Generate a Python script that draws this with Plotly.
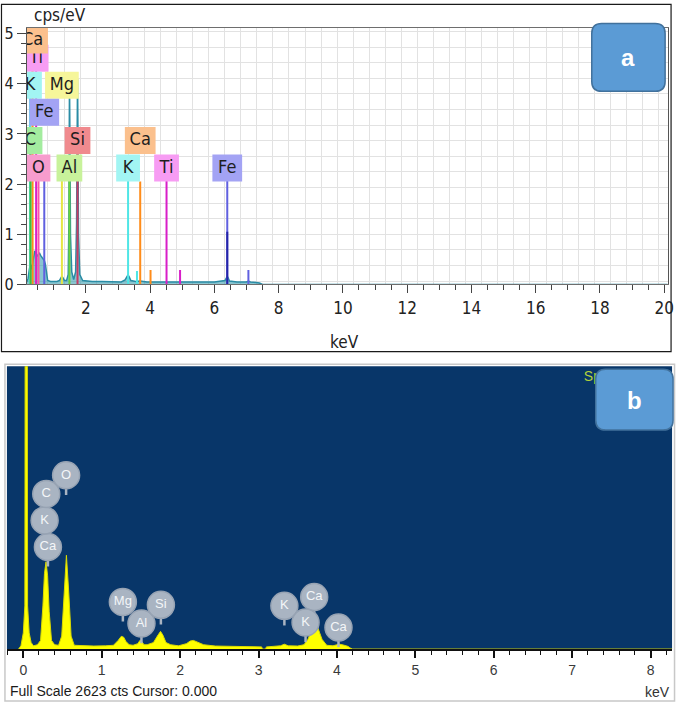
import plotly.graph_objects as go

W, H = 685, 716


def PX(x):
    return min(1.0, max(0.0, x / W))


def PY(y):
    return min(1.0, max(0.0, 1 - y / H))


# ---------------- Panel a data (cps/eV vs keV) ----------------
a_spec_kev = [0.16, 0.20, 0.24, 0.27, 0.29, 0.32, 0.35, 0.38, 0.41, 0.44, 0.47, 0.50, 0.53, 0.56, 0.59,
              0.62, 0.65, 0.68, 0.71, 0.74, 0.77, 0.81, 0.9, 1.0, 1.1, 1.18, 1.23, 1.25, 1.28, 1.33,
              1.40, 1.45, 1.47, 1.48, 1.49, 1.50, 1.52, 1.56, 1.62, 1.68, 1.71, 1.73, 1.74, 1.75, 1.77,
              1.81, 1.9, 2.0, 2.2, 2.5, 2.8, 3.1, 3.22, 3.28, 3.31, 3.34, 3.40, 3.55, 3.69, 3.9,
              4.5, 5.2, 6.0, 6.33, 6.38, 6.40, 6.42, 6.47, 6.7, 7.0, 7.06, 7.12, 7.3, 7.4, 7.5, 20.1]
a_spec_cps = [0.05, 0.12, 0.30, 0.40, 0.38, 0.30, 0.45, 0.62, 0.67, 0.64, 0.58, 0.56, 0.60, 0.62, 0.58,
              0.55, 0.52, 0.50, 0.47, 0.40, 0.20, 0.08, 0.06, 0.06, 0.06, 0.08, 0.14, 0.16, 0.14, 0.08,
              0.08, 0.20, 1.2, 3.2, 4.1, 3.2, 1.0, 0.25, 0.10, 0.25, 1.2, 3.3, 4.1, 3.3, 1.0,
              0.20, 0.08, 0.07, 0.06, 0.06, 0.05, 0.05, 0.09, 0.16, 0.19, 0.16, 0.08, 0.06, 0.07, 0.05,
              0.05, 0.05, 0.05, 0.08, 0.14, 0.16, 0.14, 0.07, 0.05, 0.05, 0.07, 0.05, 0.04, 0.03, 0.0, 0.0]

# element markers with labels
a_lab_el = ["Ti", "Ca", "K", "Mg", "Fe", "C", "Si", "O", "Al", "Ca", "K", "Ti", "Fe"]
a_lab_kev = [0.452, 0.341, 0.260, 1.254, 0.705, 0.277, 1.740, 0.525, 1.487, 3.691, 3.313, 4.510, 6.400]
a_lab_row = [4.51, 4.87, 3.97, 3.97, 3.43, 2.87, 2.87, 2.32, 2.32, 2.87, 2.32, 2.32, 2.32]
a_line_top = [4.51, 4.87, 3.97, 2.30, 2.30, 2.87, 2.87, 2.32, 2.32, 2.05, 2.32, 2.32, 2.32]
# unlabelled small marker lines
a_minor_el = ["K", "Ca", "Ti", "Fe"]
a_minor_kev = [3.590, 4.012, 4.931, 7.058]
a_minor_top = [0.27, 0.29, 0.29, 0.29]
a_fe_main_top = 1.05

a_xticks = [2, 4, 6, 8, 10, 12, 14, 16, 18, 20]
a_yticks = [0, 1, 2, 3, 4, 5]

# ---------------- Panel b data (counts vs keV) ----------------
b_spec_kev = [-0.06, -0.03, 0.0, 0.02, 0.025, 0.05, 0.055, 0.075, 0.10, 0.13, 0.18, 0.22, 0.25, 0.27, 0.29,
              0.31, 0.33, 0.36, 0.40, 0.45, 0.49, 0.52, 0.55, 0.58, 0.61, 0.65, 0.75, 0.9, 1.05, 1.15,
              1.21, 1.25, 1.28, 1.31, 1.35, 1.40, 1.46, 1.49, 1.51, 1.54, 1.58, 1.66, 1.71, 1.75, 1.78,
              1.82, 1.88, 1.98, 2.08, 2.13, 2.17, 2.22, 2.30, 2.45, 2.7, 2.95, 3.04, 3.05, 3.09, 3.10,
              3.2, 3.28, 3.33, 3.38, 3.5, 3.58, 3.63, 3.68, 3.72, 3.76, 3.81, 3.87, 3.95, 4.0, 4.03,
              4.08, 4.14, 4.17, 4.2, 8.3]
b_spec_cts = [0, 30, 150, 400, 4000, 4000, 400, 150, 60, 30, 40, 80, 400, 700, 810,
              680, 350, 80, 40, 35, 120, 500, 870, 520, 120, 35, 30, 28, 30, 35,
              80, 118, 110, 70, 40, 35, 50, 82, 70, 40, 40, 60, 120, 164, 130,
              60, 40, 30, 50, 75, 80, 65, 40, 28, 25, 22, 20, 0, 0, 20,
              22, 30, 45, 30, 28, 40, 90, 180, 240, 190, 90, 35, 30, 40, 45,
              38, 25, 10, 0, 0]
b_full_scale = 2623
b_lab_el = ["Ca", "K", "C", "O", "Mg", "Al", "Si", "K", "Ca", "K", "Ca"]
b_lab_kev = [0.314, 0.272, 0.293, 0.546, 1.27, 1.507, 1.755, 3.33, 3.71, 3.60, 4.02]
b_lab_cts = [947, 1193, 1439, 1612, 437, 237, 410, 401, 483, 246, 200]
b_xticks = [0, 1, 2, 3, 4, 5, 6, 7, 8]

# ---------------- styles ----------------
CF = "DejaVu Sans Condensed, Liberation Sans Narrow, DejaVu Sans, sans-serif"
AF = "Liberation Sans, Arial, sans-serif"
box_col = {"Ca": "#fbc08d", "Ti": "#f79cf3", "K": "#a2f5f3", "Mg": "#f6f69a", "Fe": "#a3a3f4",
           "C": "#a3ec9f", "Si": "#f08a8e", "O": "#f79ccd", "Al": "#c8f29b"}
line_col = {"Ca": "#ff8c1a", "Ti": "#d81ec8", "K": "#4fe6e6", "Mg": "#e6e645", "Fe": "#6060e0",
            "C": "#3cc03c", "Si": "#c83c64", "O": "#ff50a8", "Al": "#6ad23c"}
box_wpx = {"Ca": 31, "Ti": 25, "K": 24, "Mg": 34, "Fe": 30, "C": 24, "Si": 26, "O": 24, "Al": 26}
BOX_HPX = 27.5

A_XR = [0.16, 20.12]
A_YR = [0.0, 5.12]
A_L, A_R, A_T, A_B = 27, 674, 25, 286.7
kev_per_px = (A_XR[1] - A_XR[0]) / (A_R - A_L)
cps_per_px = (A_YR[1] - A_YR[0]) / (A_B - A_T)

B_KEV_PER_PX = 1 / 79.1
B_L, B_R, B_T, B_B = 7, 678, 370, 658
B_XR = [(B_L - 23.5) * B_KEV_PER_PX, (B_R - 23.5) * B_KEV_PER_PX]
cts_per_px = b_full_scale / (B_B - B_T)

fig = go.Figure()

# grid carriers (overlay axes)
fig.add_trace(go.Scatter(x=[None], y=[None], xaxis="x3", yaxis="y", showlegend=False, hoverinfo="skip"))
fig.add_trace(go.Scatter(x=[None], y=[None], xaxis="x", yaxis="y3", showlegend=False, hoverinfo="skip"))

# spectrum a
fig.add_trace(go.Scatter(x=a_spec_kev, y=a_spec_cps, mode="lines", fill="tozeroy",
                         line=dict(color="#2a8ca5", width=1.5), fillcolor="rgba(40,150,170,0.55)",
                         xaxis="x", yaxis="y", showlegend=False, hoverinfo="skip"))

# marker lines a
for el, e, top in zip(a_lab_el, a_lab_kev, a_line_top):
    fig.add_trace(go.Scatter(x=[e, e], y=[0, top], mode="lines", line=dict(color=line_col[el], width=2),
                             xaxis="x", yaxis="y", showlegend=False, hoverinfo="skip"))
for el, e, top in zip(a_minor_el, a_minor_kev, a_minor_top):
    fig.add_trace(go.Scatter(x=[e, e], y=[0, top], mode="lines", line=dict(color=line_col[el], width=2),
                             xaxis="x", yaxis="y", showlegend=False, hoverinfo="skip"))
fig.add_trace(go.Scatter(x=[a_lab_kev[-1]] * 2, y=[0, a_fe_main_top], mode="lines",
                         line=dict(color="#2424a8", width=2), xaxis="x", yaxis="y",
                         showlegend=False, hoverinfo="skip"))

# label boxes a
for el, e, row in zip(a_lab_el, a_lab_kev, a_lab_row):
    hw = box_wpx[el] / 2 * kev_per_px
    hh = BOX_HPX / 2 * cps_per_px
    fig.add_trace(go.Scatter(x=[e - hw, e + hw, e + hw, e - hw, e - hw],
                             y=[row - hh, row - hh, row + hh, row + hh, row - hh],
                             mode="lines", fill="toself", fillcolor=box_col[el], line=dict(width=0),
                             xaxis="x", yaxis="y", showlegend=False, hoverinfo="skip"))
    fig.add_trace(go.Scatter(x=[e], y=[row], mode="text", text=[el], textposition="middle center",
                             textfont=dict(family=CF, size=18, color="#1e1e1e"),
                             xaxis="x", yaxis="y", showlegend=False, hoverinfo="skip"))

# spectrum b
fig.add_trace(go.Scatter(x=b_spec_kev, y=b_spec_cts, mode="lines", fill="tozeroy",
                         line=dict(color="#d9d900", width=1), fillcolor="#ffff00",
                         xaxis="x2", yaxis="y2", showlegend=False, hoverinfo="skip"))
# spectrum name (mostly covered by box b)
fig.add_trace(go.Scatter(x=[(589 - 23.5) * B_KEV_PER_PX],
                         y=[(B_B - 381) * cts_per_px], mode="text", text=["Spectrum 1"],
                         textposition="middle right", textfont=dict(family=AF, size=14, color="#b4d23c"),
                         xaxis="x2", yaxis="y2", showlegend=False, hoverinfo="skip"))
# stems and bubbles
sx, sy = [], []
for e, c in zip(b_lab_kev, b_lab_cts):
    sx += [e, e, None]
    sy += [c, c - 20 * cts_per_px, None]
fig.add_trace(go.Scatter(x=sx, y=sy, mode="lines", line=dict(color="#a9b4c2", width=2.5),
                         xaxis="x2", yaxis="y2", showlegend=False, hoverinfo="skip"))
fig.add_trace(go.Scatter(x=b_lab_kev, y=b_lab_cts, mode="markers+text", text=b_lab_el,
                         textposition="middle center",
                         marker=dict(size=27, color="#a9b4c2", line=dict(color="#97a3b3", width=1.5)),
                         textfont=dict(family=AF, size=13, color="#f4f6f8"),
                         xaxis="x2", yaxis="y2", showlegend=False, hoverinfo="skip"))


def rrect(x0, y0, x1, y1, r):
    def p(x, y):
        return f"{PX(x):.5f},{PY(y):.5f}"
    return (f"M {p(x0 + r, y0)} L {p(x1 - r, y0)} Q {p(x1, y0)} {p(x1, y0 + r)} "
            f"L {p(x1, y1 - r)} Q {p(x1, y1)} {p(x1 - r, y1)} L {p(x0 + r, y1)} "
            f"Q {p(x0, y1)} {p(x0, y1 - r)} L {p(x0, y0 + r)} Q {p(x0, y0)} {p(x0 + r, y0)} Z")


shapes = [
    dict(type="rect", xref="x2 domain", yref="y2 domain", x0=0, x1=1, y0=0, y1=1,
         fillcolor="#083669", line=dict(width=0), layer="below"),
    dict(type="rect", xref="paper", yref="paper", x0=PX(1.5), x1=PX(677), y0=PY(355), y1=PY(1.5),
         line=dict(color="#1a1a1a", width=1.2), fillcolor="rgba(0,0,0,0)", layer="above"),
    dict(type="rect", xref="paper", yref="paper", x0=PX(5), x1=PX(680.5), y0=PY(711), y1=PY(368),
         line=dict(color="#c8c8c8", width=1.5), fillcolor="rgba(0,0,0,0)", layer="above"),
    dict(type="path", xref="paper", yref="paper", path=rrect(597, 21, 671, 90, 10),
         fillcolor="#5b9bd5", line=dict(color="#41719c", width=1.5), layer="above"),
    dict(type="path", xref="paper", yref="paper", path=rrect(601, 373, 679, 435, 10),
         fillcolor="#5b9bd5", line=dict(color="#41719c", width=1.5), layer="above"),
]

annotations = [
    dict(text="cps/eV", x=PX(32), y=PY(12), xref="paper", yref="paper", xanchor="left", yanchor="middle",
         showarrow=False, font=dict(family=CF, size=17, color="#222")),
    dict(text="keV", x=PX(348), y=PY(345), xref="paper", yref="paper", xanchor="center", yanchor="middle",
         showarrow=False, font=dict(family=CF, size=17, color="#222")),
    dict(text="Full Scale %d cts Cursor: 0.000" % b_full_scale, x=PX(8), y=PY(701), xref="paper", yref="paper",
         xanchor="left", yanchor="middle", showarrow=False, font=dict(family=AF, size=14, color="#1a1a1a")),
    dict(text="keV", x=PX(678), y=PY(702), xref="paper", yref="paper", xanchor="right", yanchor="middle",
         showarrow=False, font=dict(family=AF, size=14, color="#333")),
    dict(text="<b>a</b>", x=PX(634), y=PY(55), xref="paper", yref="paper", xanchor="center", yanchor="middle",
         showarrow=False, font=dict(family=AF, size=24, color="white")),
    dict(text="<b>b</b>", x=PX(640), y=PY(405), xref="paper", yref="paper", xanchor="center", yanchor="middle",
         showarrow=False, font=dict(family=AF, size=24, color="white")),
]

fig.update_layout(
    width=W, height=H, margin=dict(l=0, r=0, t=0, b=0),
    paper_bgcolor="white", plot_bgcolor="white", showlegend=False,
    shapes=shapes, annotations=annotations,
    xaxis=dict(domain=[PX(A_L), PX(A_R)], range=A_XR, anchor="y", showgrid=False, zeroline=False,
               showline=True, linecolor="#6e6e6e", linewidth=1, mirror=True,
               ticks="outside", ticklen=8, tickwidth=1, tickcolor="#444", ticklabeloverflow="allow",
               tickmode="array", tickvals=a_xticks, ticktext=[str(v) for v in a_xticks],
               minor=dict(dtick=0.5, tick0=0, ticklen=5, tickcolor="#444", ticks="outside", showgrid=False),
               tickfont=dict(family=CF, size=17, color="#222")),
    yaxis=dict(domain=[PY(A_B), PY(A_T)], range=A_YR, anchor="x", showgrid=False, zeroline=False,
               showline=True, linecolor="#555", linewidth=1, mirror=True,
               ticks="outside", ticklen=9, tickwidth=1, tickcolor="#444",
               tickmode="array", tickvals=a_yticks, ticktext=[str(v) for v in a_yticks],
               minor=dict(dtick=0.2, tick0=0, ticklen=5, tickcolor="#444", ticks="outside", showgrid=False),
               tickfont=dict(family=CF, size=16, color="#222")),
    xaxis3=dict(overlaying="x", anchor="y", side="top", range=A_XR, tick0=0.32, dtick=0.5,
                showgrid=True, gridcolor="#e2e2e2", gridwidth=1, showticklabels=False, ticks="",
                showline=False, zeroline=False),
    yaxis3=dict(overlaying="y", anchor="x", side="right", range=A_YR, tick0=0.066, dtick=0.311,
                showgrid=True, gridcolor="#e2e2e2", gridwidth=1, showticklabels=False, ticks="",
                showline=False, zeroline=False),
    xaxis2=dict(domain=[PX(B_L), PX(B_R)], range=B_XR, anchor="y2", showgrid=False, zeroline=False,
                showline=True, linecolor="#111", linewidth=1.5, mirror=False,
                ticks="outside", ticklen=7, tickwidth=1.5, tickcolor="#111",
                tickmode="array", tickvals=b_xticks, ticktext=[str(v) for v in b_xticks],
                minor=dict(dtick=0.2, tick0=0, ticklen=4, tickwidth=1, tickcolor="#111", ticks="outside"),
                tickfont=dict(family=AF, size=14, color="#3a3a3a")),
    yaxis2=dict(domain=[PY(B_B), PY(B_T)], range=[0, b_full_scale], anchor="x2", visible=False),
)

fig.write_html(
    "out.html",
    config={"displayModeBar": False},
    post_script="document.body.style.margin='0px';document.body.style.padding='0px';",
)
